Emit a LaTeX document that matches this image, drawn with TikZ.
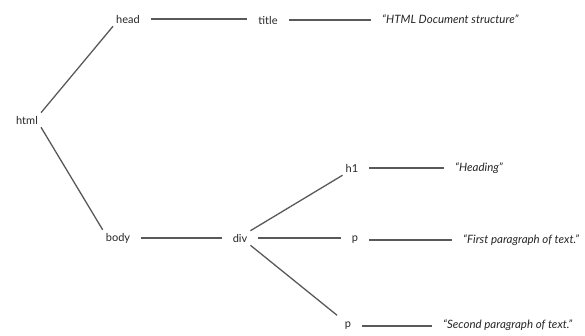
\documentclass[tikz,border=0pt]{standalone}
\usepackage{fontspec}
\setmainfont{Lato}
\usepackage{tikz}
\usetikzlibrary{positioning}
\tikzset{
  tag/.style ={font=\fontsize{11}{13}\selectfont, text=black!85, inner sep=3pt},
  val/.style ={font=\fontsize{11.5}{13}\selectfont\itshape, text=black!85, inner sep=3pt},
  link/.style={draw=black!65, line width=1.3pt},
  flat/.style={link, shorten <=8pt, shorten >=8pt},
}
\begin{document}
\begin{tikzpicture}[x=1pt, y=-1pt]
  \useasboundingbox (0,0) rectangle (585,336);
  \node[tag] (html) at (27,120) {html};
  \node[tag] (head) at (128,19) {head};
  \node[tag] (title) at (268,20) {title};
  \node[val, anchor=west] (doc) at (379,19) {``HTML Document structure''};
  \node[tag] (body) at (118,238) {body};
  \node[tag] (div) at (240,238) {div};
  \node[tag] (h1) at (352,168) {h1};
  \node[val, anchor=west] (heading) at (452,168) {``Heading''};
  \node[tag] (p1) at (355,240) {p};
  \node[val, anchor=west] (first) at (460,240) {``First paragraph of text.''};
  \node[tag] (p2) at (348,326) {p};
  \node[val, anchor=west] (second) at (440,325) {``Second paragraph of text.''};
  % tree links
  \draw[link] (html.north east) -- (head.south west);
  \draw[link] (html.south east) -- (body.north west);
  \draw[flat] (head.east) -- (head.east -| title.west);
  \draw[flat] (title.east) -- (title.east -| doc.west);
  \draw[flat] (body.east) -- (body.east -| div.west);
  \draw[link] (div.north east) -- (h1.south west);
  \draw[flat] (div.east) -- (div.east -| p1.west);
  \draw[link, shorten >=6pt] (div.south east) -- (p2.north west);
  \draw[flat] (h1.east) -- (h1.east -| heading.west);
  \draw[flat] (p1.east) -- (p1.east -| first.west);
  \draw[flat] (p2.east) -- (p2.east -| second.west);
\end{tikzpicture}
\end{document}
